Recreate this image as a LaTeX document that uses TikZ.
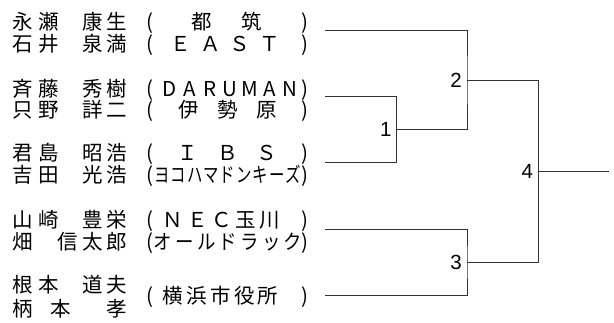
\documentclass[tikz,border=0pt]{standalone}
\usepackage{fontspec}
\setmainfont{Liberation Sans}
\newfontfamily\jp{Noto Sans CJK JP}

\tikzset{
  ch/.style={font=\jp\fontsize{20.5}{24}\selectfont, inner sep=0pt, text height=18pt, text depth=2.5pt},
  num/.style={font=\fontsize{20.5}{24}\selectfont, anchor=east, inner sep=0pt, xshift=-5pt},
  bracket/.style={line width=0.9pt, draw=black!80}
}

% condensed kana
\newcommand\cond[2][0.75]{\scalebox{#1}[1]{#2}}
% #1 row, #2 y, #3 x/char list
\newcommand\player[3]{%
  \foreach \gx/\gc [count=\i] in {#3} \node[ch] (#1-\i) at (\gx,#2) {\gc};}
% #1 row, #2 y, #3 first x, #4 pitch, #5 chars
\newcommand\club[5]{%
  \node[ch] (#1-open) at (150,#2) {(};
  \node[ch] (#1-close) at (305,#2) {)};
  \foreach \gc [count=\i] in {#5} \node[ch] (#1-c\i) at ({#3+(\i-1)*#4},#2) {\gc};}

\begin{document}
\begin{tikzpicture}[x=1pt,y=-1pt]
\useasboundingbox (0,0) rectangle (614,323);

\coordinate (t1) at (325,30);
\coordinate (t2) at (325,96.7);
\coordinate (t3) at (325,162.7);
\coordinate (t4) at (325,229);
\coordinate (t5) at (325,295);

\coordinate (j1) at (396.7,129.7);
\coordinate (j2) at (467,80);
\coordinate (j3) at (467,262);
\coordinate (j4) at (538.3,171);
\coordinate (w) at (609,171);

\draw[bracket] (t2) -| (j1) |- (t3);
\draw[bracket] (t1) -| (j2) |- (j1);
\draw[bracket] (t4) -| (j3) |- (t5);
\draw[bracket] (j2) -| (j4) |- (j3);
\draw[bracket] (j4) -- (w);

\node[num] (m1) at (j1) {1};
\node[num] (m2) at (j2) {2};
\node[num] (m3) at (j3) {3};
\node[num] (m4) at (j4) {4};

\player{r1}{21.7}{23/永,49/瀬,92.5/康,117/生}
\club{r1}{21.7}{202}{50}{都,筑}
\player{r2}{43.3}{23/石,49/井,92.5/泉,117/満}
\club{r2}{43.3}{181}{29.5}{Ｅ,Ａ,Ｓ,Ｔ}

\player{r3}{88.3}{23/斉,49/藤,92.5/秀,117/樹}
\club{r3}{88.3}{170}{20}{D,A,R,U,M,A,N}
\player{r4}{110}{23/只,49/野,92.5/詳,117/二}
\club{r4}{110}{188.75}{38.75}{伊,勢,原}

\player{r5}{153}{23/君,49/島,92.5/昭,117/浩}
\club{r5}{153}{188}{39.5}{Ｉ,Ｂ,Ｓ}
\player{r6}{175}{23/吉,49/田,92.5/光,117/浩}
\club{r6}{175}{162}{16.4}{\cond{ヨ},\cond{コ},\cond{ハ},\cond{マ},\cond{ド},\cond{ン},\cond{キ},\cond{ー},\cond{ズ}}

\player{r7}{220}{23/山,49/崎,92.5/豊,117/栄}
\club{r7}{220}{173}{24.25}{Ｎ,Ｅ,Ｃ,玉,川}
\player{r8}{242}{23/畑,68/信,92.5/太,117/郎}
\club{r8}{242}{163}{21.7}{\cond[0.9]{オ},\cond[0.9]{ー},\cond[0.9]{ル},\cond[0.9]{ド},\cond[0.9]{ラ},\cond[0.9]{ッ},\cond[0.9]{ク}}

\player{r9}{285}{23/根,49/本,92.5/道,117/夫}
\club{r9}{296}{173}{23.75}{横,浜,市,役,所}
\player{r10}{308.5}{23/柄,61/本,117/孝}

\end{tikzpicture}
\end{document}
